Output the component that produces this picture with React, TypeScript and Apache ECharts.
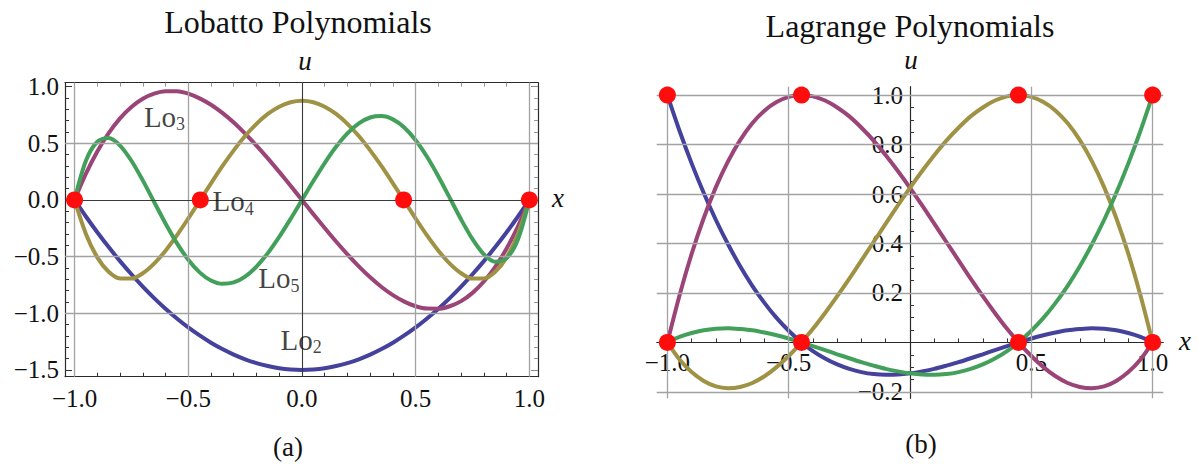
import React, { useEffect, useRef } from 'react';
import * as echarts from 'echarts';

// ---------- data ----------
const xs = [
  -1, -0.95, -0.9, -0.85, -0.8, -0.75, -0.7, -0.65, -0.6, -0.55, -0.5, -0.45, -0.4, -0.35, -0.3, -0.25, -0.2, -0.15, -0.1, -0.05,
  0, 0.05, 0.1, 0.15, 0.2, 0.25, 0.3, 0.35, 0.4, 0.45, 0.5, 0.55, 0.6, 0.65, 0.7, 0.75, 0.8, 0.85, 0.9, 0.95, 1,
];

// Lobatto shape functions (panel a)
const lo2 = [
  0, -0.146, -0.285, -0.416, -0.54, -0.656, -0.765, -0.866, -0.96, -1.046, -1.125, -1.196, -1.26, -1.316, -1.365, -1.406, -1.44, -1.466, -1.485, -1.496,
  -1.5, -1.496, -1.485, -1.466, -1.44, -1.406, -1.365, -1.316, -1.26, -1.196, -1.125, -1.046, -0.96, -0.866, -0.765, -0.656, -0.54, -0.416, -0.285, -0.146, 0,
];
const lo3 = [
  0, 0.232, 0.428, 0.59, 0.72, 0.82, 0.893, 0.938, 0.96, 0.959, 0.938, 0.897, 0.84, 0.768, 0.683, 0.586, 0.48, 0.367, 0.248, 0.125,
  0, -0.125, -0.248, -0.367, -0.48, -0.586, -0.683, -0.768, -0.84, -0.897, -0.938, -0.959, -0.96, -0.938, -0.893, -0.82, -0.72, -0.59, -0.428, -0.232, 0,
];
const lo4 = [
  0, -0.3, -0.507, -0.634, -0.693, -0.694, -0.647, -0.562, -0.448, -0.313, -0.164, -0.009, 0.147, 0.298, 0.438, 0.564, 0.672, 0.759, 0.823, 0.862,
  0.875, 0.862, 0.823, 0.759, 0.672, 0.564, 0.438, 0.298, 0.147, -0.009, -0.164, -0.313, -0.448, -0.562, -0.647, -0.694, -0.693, -0.634, -0.507, -0.3, 0,
];
const lo5 = [
  0, 0.346, 0.514, 0.546, 0.48, 0.346, 0.173, -0.018, -0.207, -0.381, -0.527, -0.639, -0.711, -0.74, -0.728, -0.676, -0.588, -0.469, -0.326, -0.167,
  0, 0.167, 0.326, 0.469, 0.588, 0.676, 0.728, 0.74, 0.711, 0.639, 0.527, 0.381, 0.207, 0.018, -0.173, -0.346, -0.48, -0.546, -0.514, -0.346, 0,
];

// Lagrange polynomials on Gauss-Lobatto nodes (panel b)
const lag1 = [
  1, 0.856, 0.724, 0.604, 0.495, 0.397, 0.308, 0.229, 0.16, 0.099, 0.047, 0.002, -0.035, -0.065, -0.089, -0.107, -0.12, -0.128, -0.131, -0.13,
  -0.125, -0.117, -0.107, -0.094, -0.08, -0.064, -0.048, -0.031, -0.015, 0.001, 0.016, 0.029, 0.04, 0.049, 0.054, 0.057, 0.055, 0.049, 0.038, 0.022, 0,
];
const lag2 = [
  0, 0.19, 0.358, 0.503, 0.628, 0.732, 0.818, 0.886, 0.937, 0.972, 0.993, 1.0, 0.995, 0.978, 0.95, 0.914, 0.868, 0.816, 0.757, 0.693,
  0.625, 0.554, 0.48, 0.406, 0.332, 0.258, 0.187, 0.119, 0.055, -0.003, -0.055, -0.1, -0.137, -0.164, -0.18, -0.185, -0.178, -0.156, -0.12, -0.069, 0,
];
const lag3 = [
  0, -0.069, -0.12, -0.156, -0.178, -0.185, -0.18, -0.164, -0.137, -0.1, -0.055, -0.003, 0.055, 0.119, 0.187, 0.258, 0.332, 0.406, 0.48, 0.554,
  0.625, 0.693, 0.757, 0.816, 0.868, 0.914, 0.95, 0.978, 0.995, 1.0, 0.993, 0.972, 0.937, 0.886, 0.818, 0.732, 0.628, 0.503, 0.358, 0.19, 0,
];
const lag4 = [
  0, 0.022, 0.038, 0.049, 0.055, 0.057, 0.054, 0.049, 0.04, 0.029, 0.016, 0.001, -0.015, -0.031, -0.048, -0.064, -0.08, -0.094, -0.107, -0.117,
  -0.125, -0.13, -0.131, -0.128, -0.12, -0.107, -0.089, -0.065, -0.035, 0.002, 0.047, 0.099, 0.16, 0.229, 0.308, 0.397, 0.495, 0.604, 0.724, 0.856, 1,
];

const loNodes = [[-1, 0], [-0.447, 0], [0.447, 0], [1, 0]];
const lagNodes = [
  [-1, 1], [-0.447, 1], [0.447, 1], [1, 1],
  [-1, 0], [-0.447, 0], [0.447, 0], [1, 0],
];
const loLabels = [
  [-0.695, 0.734, '3'],
  [-0.393, -0.01, '4'],
  [-0.192, -0.693, '5'],
  [-0.094, -1.236, '2'],
];

// ticks
const loXMajor = [-1, -0.5, 0, 0.5, 1];
const loXMinor = [-0.9, -0.8, -0.7, -0.6, -0.4, -0.3, -0.2, -0.1, 0.1, 0.2, 0.3, 0.4, 0.6, 0.7, 0.8, 0.9];
const loYMajor = [-1.5, -1, -0.5, 0, 0.5, 1];
const loYMinor = [-1.4, -1.3, -1.2, -1.1, -0.9, -0.8, -0.7, -0.6, -0.4, -0.3, -0.2, -0.1, 0.1, 0.2, 0.3, 0.4, 0.6, 0.7, 0.8, 0.9];
const loXGrid = [-1, -0.5, 0.5, 1];
const loYGrid = [0.5, -0.5, -1];

const lagXMajor = [-1, -0.5, 0.5, 1];
const lagXMinor = [-0.9, -0.8, -0.7, -0.6, -0.4, -0.3, -0.2, -0.1, 0.1, 0.2, 0.3, 0.4, 0.6, 0.7, 0.8, 0.9];
const lagYMajor = [-0.2, 0.2, 0.4, 0.6, 0.8, 1];
const lagYMinor = [-0.15, -0.1, -0.05, 0.05, 0.1, 0.15, 0.25, 0.3, 0.35, 0.45, 0.5, 0.55, 0.65, 0.7, 0.75, 0.85, 0.9, 0.95];
const lagXGrid = [-1, -0.5, 0.5, 1];
const lagYGrid = [-0.2, 0.2, 0.4, 0.6, 0.8, 1];

// ---------- styles ----------
const SERIF = 'Liberation Serif';
const C_BLUE = '#44429c';
const C_MAG = '#9b4478';
const C_OLIVE = '#a09244';
const C_GREEN = '#43a05a';
const C_RED = '#ff0d0d';
const LO_X = [-1.042, 1.038];
const LO_Y = [-1.56, 1.035];
const LAG_X = [-1.044, 1.044];
const LAG_Y = [-0.226, 1.034];
const LO_GRID = { left: 65, top: 82.7, width: 473, height: 294 };
const LAG_GRID = { left: 656.7, top: 86.7, width: 506.6, height: 311.6 };

// offsets that put panel (b)'s axes through the origin
const LAG_X_OFFSET = -LAG_GRID.height * (0 - LAG_Y[0]) / (LAG_Y[1] - LAG_Y[0]);
const LAG_Y_OFFSET = -LAG_GRID.width * (0 - LAG_X[0]) / (LAG_X[1] - LAG_X[0]);

const fmt = (v: number) => (v < 0 ? '\u2212' : '') + Math.abs(v).toFixed(1);

function axis(o: any) {
  const { gridIndex, position, range, ticks, tickLen, line, labels, offset, labelMargin, tickColor } = o;
  return {
    type: 'value',
    gridIndex,
    position,
    offset: offset || 0,
    min: range[0],
    max: range[1],
    axisLine: {
      show: !!line,
      onZero: false,
      lineStyle: { color: '#2a2a2a', width: 1.2 },
    },
    axisTick: {
      show: true,
      inside: true,
      length: tickLen,
      customValues: ticks,
      lineStyle: { color: tickColor || '#333', width: 1 },
    },
    axisLabel: labels
      ? {
          show: true,
          customValues: labels,
          formatter: fmt,
          margin: labelMargin,
          fontSize: 25,
          fontFamily: SERIF,
          color: '#111',
        }
      : { show: false },
    splitLine: { show: false },
    minorTick: { show: false },
  };
}

function curve(data: number[], color: string, xi: number, yi: number) {
  return {
    type: 'line',
    xAxisIndex: xi,
    yAxisIndex: yi,
    data: xs.map((x, i) => [x, data[i]]),
    smooth: 0.3,
    symbol: 'none',
    lineStyle: { color, width: 4 },
    z: 3,
    silent: true,
  };
}

function gridLines(xv: number[], yv: number[], extra: any[] = []) {
  const gs = { color: '#a2a2a2', width: 1.3, type: 'solid' };
  return [
    ...xv.map((v) => ({ xAxis: v, lineStyle: gs })),
    ...yv.map((v) => ({ yAxis: v, lineStyle: gs })),
    ...extra,
  ];
}

function text(t: string, x: number, y: number, size: number, italic = false) {
  return {
    type: 'text',
    x,
    y,
    style: {
      text: t,
      fontSize: size,
      fontFamily: SERIF,
      fontStyle: italic ? 'italic' : 'normal',
      fill: '#111',
      align: 'center',
      verticalAlign: 'middle',
    },
    z: 10,
  };
}

export default function App() {
  const ref = useRef<HTMLDivElement>(null);

  useEffect(() => {
    if (!ref.current) return;
    const chart = echarts.init(ref.current, null, { renderer: 'svg' });
    const axisDark = { color: '#3a3a3a', width: 1.1, type: 'solid' };

    const option: any = {
      animation: false,
      backgroundColor: '#ffffff',
      grid: [
        { ...LO_GRID, containLabel: false },
        { ...LAG_GRID, containLabel: false },
      ],
      xAxis: [
        axis({ gridIndex: 0, position: 'bottom', range: LO_X, ticks: loXMajor, tickLen: 7, line: true, labels: loXMajor, labelMargin: 9 }),
        axis({ gridIndex: 0, position: 'bottom', range: LO_X, ticks: loXMinor, tickLen: 4 }),
        axis({ gridIndex: 0, position: 'top', range: LO_X, ticks: loXMajor, tickLen: 7, line: true, tickColor: '#888' }),
        axis({ gridIndex: 0, position: 'top', range: LO_X, ticks: loXMinor, tickLen: 4, tickColor: '#999' }),
        axis({ gridIndex: 1, position: 'bottom', range: LAG_X, ticks: lagXMajor, tickLen: 7, line: true, labels: lagXMajor, labelMargin: 8, offset: LAG_X_OFFSET }),
        axis({ gridIndex: 1, position: 'bottom', range: LAG_X, ticks: lagXMinor, tickLen: 4, offset: LAG_X_OFFSET }),
      ],
      yAxis: [
        axis({ gridIndex: 0, position: 'left', range: LO_Y, ticks: loYMajor, tickLen: 7, line: true, labels: loYMajor, labelMargin: 6 }),
        axis({ gridIndex: 0, position: 'left', range: LO_Y, ticks: loYMinor, tickLen: 4 }),
        axis({ gridIndex: 0, position: 'right', range: LO_Y, ticks: loYMajor, tickLen: 7, line: true, tickColor: '#888' }),
        axis({ gridIndex: 0, position: 'right', range: LO_Y, ticks: loYMinor, tickLen: 4, tickColor: '#999' }),
        axis({ gridIndex: 1, position: 'left', range: LAG_Y, ticks: lagYMajor, tickLen: 7, line: true, labels: lagYMajor, labelMargin: 7, offset: LAG_Y_OFFSET }),
        axis({ gridIndex: 1, position: 'left', range: LAG_Y, ticks: lagYMinor, tickLen: 4, offset: LAG_Y_OFFSET }),
      ],
      series: [
        // panel (a) grid lines and origin axes
        {
          type: 'line',
          xAxisIndex: 0,
          yAxisIndex: 0,
          data: [[0, 0]],
          symbol: 'none',
          lineStyle: { opacity: 0 },
          silent: true,
          z: 1,
          markLine: {
            silent: true,
            symbol: 'none',
            label: { show: false },
            lineStyle: { type: 'solid' },
            data: gridLines(loXGrid, loYGrid, [
              { xAxis: 0, lineStyle: axisDark },
              { yAxis: 0, lineStyle: axisDark },
            ]),
          },
        },
        // panel (b) grid lines
        {
          type: 'line',
          xAxisIndex: 4,
          yAxisIndex: 4,
          data: [[0, 0]],
          symbol: 'none',
          lineStyle: { opacity: 0 },
          silent: true,
          z: 1,
          markLine: {
            silent: true,
            symbol: 'none',
            label: { show: false },
            lineStyle: { type: 'solid' },
            data: gridLines(lagXGrid, lagYGrid),
          },
        },
        curve(lo2, C_BLUE, 0, 0),
        curve(lo3, C_MAG, 0, 0),
        curve(lo4, C_OLIVE, 0, 0),
        curve(lo5, C_GREEN, 0, 0),
        curve(lag1, C_BLUE, 4, 4),
        curve(lag2, C_MAG, 4, 4),
        curve(lag3, C_OLIVE, 4, 4),
        curve(lag4, C_GREEN, 4, 4),
        {
          type: 'scatter',
          xAxisIndex: 0,
          yAxisIndex: 0,
          data: loNodes,
          symbolSize: 17,
          itemStyle: { color: C_RED, opacity: 1 },
          z: 5,
          silent: true,
        },
        {
          type: 'scatter',
          xAxisIndex: 4,
          yAxisIndex: 4,
          data: lagNodes,
          symbolSize: 17,
          itemStyle: { color: C_RED, opacity: 1 },
          z: 5,
          silent: true,
        },
        {
          type: 'scatter',
          xAxisIndex: 0,
          yAxisIndex: 0,
          data: loLabels,
          symbolSize: 0,
          z: 6,
          silent: true,
          label: {
            show: true,
            position: 'right',
            distance: 0,
            formatter: (p: any) => `{b|Lo}{s|${p.data[2]}}`,
            rich: {
              b: { fontSize: 29, lineHeight: 29, fontFamily: SERIF, color: '#111', verticalAlign: 'top' },
              s: { fontSize: 18, lineHeight: 18, fontFamily: SERIF, color: '#111', verticalAlign: 'top', padding: [13, 0, 0, 0] },
            },
          },
        },
      ],
      graphic: [
        text('Lobatto Polynomials', 298, 22, 32),
        text('Lagrange Polynomials', 910, 26, 32),
        text('u', 305, 61, 27, true),
        text('u', 911, 60, 27, true),
        text('x', 558, 198, 27, true),
        text('x', 1185, 341, 27, true),
        text('(a)', 288, 447, 27),
        text('(b)', 921, 444, 27),
      ],
    };

    chart.setOption(option);
    return () => chart.dispose();
  }, []);

  return (
    <div
      ref={ref}
      style={{ position: 'absolute', left: 0, top: 0, width: 1198, height: 464, background: '#fff' }}
    />
  );
}
